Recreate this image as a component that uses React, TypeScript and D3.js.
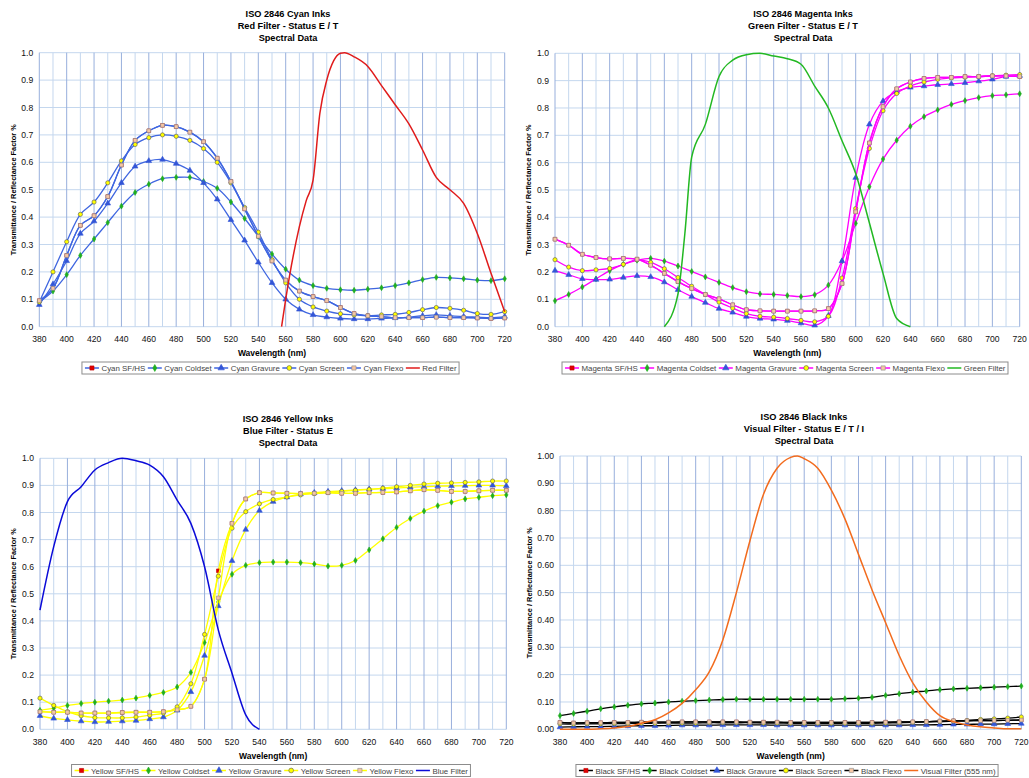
import React, { useEffect, useRef } from 'react';
import * as d3 from 'd3';

// Wavelength categories (nm)
const wavelengths = [380, 390, 400, 410, 420, 430, 440, 450, 460, 470, 480, 490, 500, 510, 520, 530, 540, 550, 560, 570, 580, 590, 600, 610, 620, 630, 640, 650, 660, 670, 680, 690, 700, 710, 720];
const xTicks = [380, 400, 420, 440, 460, 480, 500, 520, 540, 560, 580, 600, 620, 640, 660, 680, 700, 720];
const yTicks = [0, 0.1, 0.2, 0.3, 0.4, 0.5, 0.6, 0.7, 0.8, 0.9, 1.0];

// Cyan inks
const cyanSF = [0.095, 0.14, 0.26, 0.37, 0.405, 0.475, 0.59, 0.68, 0.715, 0.735, 0.73, 0.71, 0.675, 0.615, 0.53, 0.43, 0.33, 0.24, 0.17, 0.13, 0.11, 0.095, 0.07, 0.048, 0.04, 0.037, 0.033, 0.033, 0.033, 0.035, 0.033, 0.033, 0.032, 0.03, 0.032];
const cyanColdset = [0.09, 0.13, 0.19, 0.26, 0.32, 0.38, 0.44, 0.49, 0.52, 0.54, 0.545, 0.545, 0.53, 0.505, 0.455, 0.395, 0.33, 0.265, 0.21, 0.17, 0.15, 0.14, 0.135, 0.133, 0.137, 0.142, 0.15, 0.16, 0.172, 0.18, 0.178, 0.175, 0.17, 0.168, 0.175];
const cyanGravure = [0.08, 0.155, 0.24, 0.34, 0.385, 0.45, 0.525, 0.585, 0.605, 0.61, 0.595, 0.57, 0.525, 0.465, 0.39, 0.315, 0.235, 0.16, 0.1, 0.063, 0.043, 0.035, 0.03, 0.028, 0.028, 0.03, 0.032, 0.035, 0.04, 0.043, 0.04, 0.037, 0.035, 0.033, 0.037];
const cyanScreen = [0.09, 0.2, 0.31, 0.41, 0.455, 0.525, 0.605, 0.665, 0.69, 0.7, 0.695, 0.68, 0.65, 0.6, 0.525, 0.435, 0.345, 0.245, 0.16, 0.1, 0.072, 0.057, 0.047, 0.043, 0.04, 0.043, 0.045, 0.052, 0.062, 0.07, 0.067, 0.06, 0.048, 0.045, 0.055];
const cyanFlexo = [0.095, 0.14, 0.26, 0.37, 0.405, 0.475, 0.59, 0.68, 0.715, 0.735, 0.73, 0.71, 0.675, 0.615, 0.53, 0.43, 0.33, 0.24, 0.17, 0.13, 0.11, 0.095, 0.07, 0.048, 0.04, 0.037, 0.033, 0.033, 0.033, 0.035, 0.033, 0.033, 0.032, 0.03, 0.032];
const redFilterNm = [557, 560, 570, 575, 580, 585, 590, 595, 600, 603, 610, 620, 630, 640, 650, 660, 670, 680, 690, 700, 710, 720];
const redFilter = [0, 0.1, 0.365, 0.46, 0.535, 0.78, 0.9, 0.97, 0.998, 1.0, 0.985, 0.95, 0.88, 0.81, 0.74, 0.645, 0.545, 0.5, 0.45, 0.34, 0.195, 0.055];

// Magenta inks
const magentaSF = [0.32, 0.298, 0.265, 0.253, 0.248, 0.25, 0.247, 0.225, 0.195, 0.165, 0.14, 0.118, 0.102, 0.08, 0.062, 0.058, 0.057, 0.057, 0.057, 0.058, 0.066, 0.158, 0.42, 0.672, 0.805, 0.87, 0.895, 0.908, 0.912, 0.912, 0.915, 0.915, 0.917, 0.917, 0.915];
const magentaColdset = [0.095, 0.118, 0.145, 0.175, 0.205, 0.228, 0.243, 0.25, 0.24, 0.222, 0.202, 0.182, 0.162, 0.143, 0.128, 0.12, 0.118, 0.114, 0.11, 0.117, 0.152, 0.24, 0.378, 0.512, 0.613, 0.682, 0.733, 0.768, 0.793, 0.813, 0.827, 0.838, 0.845, 0.848, 0.852];
const magentaGravure = [0.205, 0.19, 0.175, 0.172, 0.173, 0.18, 0.186, 0.182, 0.163, 0.135, 0.11, 0.088, 0.066, 0.052, 0.037, 0.03, 0.027, 0.022, 0.013, 0.005, 0.04, 0.24, 0.545, 0.74, 0.825, 0.86, 0.875, 0.88, 0.885, 0.888, 0.892, 0.898, 0.905, 0.915, 0.918];
const magentaScreen = [0.245, 0.218, 0.205, 0.208, 0.213, 0.228, 0.245, 0.235, 0.212, 0.18, 0.148, 0.118, 0.09, 0.068, 0.048, 0.038, 0.035, 0.03, 0.023, 0.018, 0.038, 0.178, 0.432, 0.652, 0.79, 0.853, 0.88, 0.895, 0.905, 0.91, 0.912, 0.915, 0.918, 0.92, 0.922];
const magentaFlexo = [0.32, 0.298, 0.265, 0.253, 0.248, 0.25, 0.247, 0.225, 0.195, 0.165, 0.14, 0.118, 0.102, 0.08, 0.062, 0.058, 0.057, 0.057, 0.057, 0.058, 0.066, 0.158, 0.42, 0.672, 0.805, 0.87, 0.895, 0.908, 0.912, 0.912, 0.915, 0.915, 0.917, 0.917, 0.915];
const greenFilterNm = [460, 470, 475, 480, 490, 500, 510, 520, 530, 540, 550, 560, 570, 580, 590, 600, 610, 620, 630, 640];
const greenFilter = [0, 0.12, 0.34, 0.62, 0.74, 0.915, 0.975, 0.995, 1.0, 0.99, 0.98, 0.96, 0.88, 0.8, 0.68, 0.56, 0.38, 0.195, 0.03, 0];

// Yellow inks
const yellowSF = [0.065, 0.063, 0.063, 0.06, 0.06, 0.06, 0.062, 0.063, 0.063, 0.065, 0.072, 0.085, 0.185, 0.585, 0.76, 0.85, 0.873, 0.872, 0.871, 0.87, 0.871, 0.873, 0.871, 0.871, 0.873, 0.874, 0.876, 0.88, 0.884, 0.882, 0.878, 0.878, 0.88, 0.882, 0.882];
const yellowColdset = [0.07, 0.078, 0.088, 0.095, 0.1, 0.104, 0.108, 0.115, 0.125, 0.136, 0.156, 0.21, 0.32, 0.47, 0.572, 0.605, 0.615, 0.617, 0.617, 0.615, 0.61, 0.602, 0.605, 0.623, 0.662, 0.703, 0.745, 0.778, 0.805, 0.825, 0.838, 0.85, 0.856, 0.862, 0.865];
const yellowGravure = [0.05, 0.04, 0.035, 0.03, 0.027, 0.028, 0.03, 0.032, 0.038, 0.045, 0.07, 0.138, 0.272, 0.455, 0.622, 0.737, 0.807, 0.84, 0.857, 0.868, 0.873, 0.877, 0.88, 0.883, 0.886, 0.888, 0.89, 0.893, 0.895, 0.897, 0.898, 0.899, 0.9, 0.9, 0.898];
const yellowScreen = [0.115, 0.088, 0.065, 0.05, 0.043, 0.042, 0.042, 0.045, 0.052, 0.06, 0.083, 0.168, 0.35, 0.565, 0.742, 0.803, 0.832, 0.848, 0.857, 0.865, 0.87, 0.875, 0.878, 0.882, 0.885, 0.89, 0.895, 0.9, 0.905, 0.908, 0.909, 0.911, 0.913, 0.916, 0.916];
const yellowFlexo = [0.065, 0.063, 0.063, 0.06, 0.06, 0.06, 0.062, 0.063, 0.063, 0.065, 0.072, 0.085, 0.185, 0.485, 0.76, 0.85, 0.873, 0.872, 0.871, 0.87, 0.871, 0.873, 0.871, 0.871, 0.873, 0.874, 0.876, 0.88, 0.884, 0.882, 0.878, 0.878, 0.88, 0.882, 0.882];
const blueFilterNm = [380, 390, 400, 410, 420, 430, 440, 450, 460, 470, 480, 490, 500, 510, 520, 530, 540];
const blueFilter = [0.44, 0.674, 0.84, 0.895, 0.957, 0.984, 1.0, 0.991, 0.975, 0.932, 0.846, 0.76, 0.6, 0.367, 0.207, 0.053, 0];

// Black inks
const blackSF = [0.025, 0.023, 0.024, 0.024, 0.025, 0.025, 0.026, 0.026, 0.026, 0.027, 0.027, 0.027, 0.027, 0.027, 0.026, 0.026, 0.026, 0.025, 0.025, 0.025, 0.025, 0.025, 0.025, 0.025, 0.026, 0.027, 0.027, 0.028, 0.03, 0.031, 0.031, 0.032, 0.032, 0.033, 0.034];
const blackColdset = [0.05, 0.058, 0.066, 0.075, 0.082, 0.088, 0.093, 0.096, 0.1, 0.103, 0.105, 0.107, 0.109, 0.11, 0.11, 0.11, 0.11, 0.11, 0.11, 0.11, 0.11, 0.112, 0.114, 0.117, 0.124, 0.13, 0.136, 0.14, 0.145, 0.148, 0.15, 0.152, 0.154, 0.156, 0.158];
const blackGravure = [0.008, 0.009, 0.01, 0.01, 0.011, 0.012, 0.013, 0.013, 0.014, 0.015, 0.015, 0.015, 0.016, 0.016, 0.016, 0.016, 0.015, 0.015, 0.015, 0.015, 0.015, 0.015, 0.015, 0.015, 0.015, 0.015, 0.016, 0.016, 0.017, 0.018, 0.018, 0.019, 0.019, 0.02, 0.021];
const blackScreen = [0.02, 0.019, 0.02, 0.02, 0.021, 0.021, 0.022, 0.022, 0.023, 0.023, 0.023, 0.024, 0.024, 0.024, 0.024, 0.023, 0.023, 0.022, 0.022, 0.022, 0.022, 0.022, 0.022, 0.022, 0.023, 0.024, 0.025, 0.027, 0.028, 0.03, 0.032, 0.036, 0.038, 0.041, 0.045];
const blackFlexo = [0.025, 0.023, 0.024, 0.024, 0.025, 0.025, 0.026, 0.026, 0.026, 0.027, 0.027, 0.027, 0.027, 0.027, 0.026, 0.026, 0.026, 0.025, 0.025, 0.025, 0.025, 0.025, 0.025, 0.025, 0.026, 0.027, 0.027, 0.028, 0.03, 0.031, 0.031, 0.032, 0.032, 0.033, 0.034];
const visualFilterNm = [380, 390, 400, 410, 420, 430, 440, 450, 460, 470, 480, 490, 500, 510, 520, 530, 540, 550, 555, 560, 570, 580, 590, 600, 610, 620, 630, 640, 650, 660, 670, 680, 690, 700, 710, 720];
const visualFilter = [0, 0, 0, 0.002, 0.005, 0.01, 0.022, 0.035, 0.06, 0.095, 0.145, 0.21, 0.327, 0.5, 0.69, 0.86, 0.955, 0.995, 1.0, 0.99, 0.955, 0.875, 0.77, 0.64, 0.51, 0.39, 0.27, 0.17, 0.1, 0.05, 0.028, 0.016, 0.009, 0.005, 0.002, 0.002];

const FONT = 'Arial, "Liberation Sans", sans-serif';

type MarkerKind = 'sf' | 'coldset' | 'gravure' | 'screen' | 'flexo';

const markerStyle: Record<MarkerKind, { type: d3.SymbolType; size: number; fill: string; stroke: string }> = {
  sf: { type: d3.symbolSquare, size: 13, fill: '#e00000', stroke: '#c00000' },
  coldset: { type: d3.symbolDiamond, size: 10, fill: '#1fae1f', stroke: '#1fae1f' },
  gravure: { type: d3.symbolTriangle, size: 14, fill: '#3355d6', stroke: '#3355d6' },
  screen: { type: d3.symbolCircle, size: 14, fill: '#ffff00', stroke: '#555' },
  flexo: { type: d3.symbolSquare, size: 14, fill: '#f6c6a4', stroke: '#8a8a8a' },
};

interface Series { name: string; values: number[]; marker: MarkerKind }
interface PanelSpec {
  title: string[];
  inkColor: string;
  series: Series[];
  filterName: string;
  filterColor: string;
  filterNm: number[];
  filterValues: number[];
  left: number; right: number; top: number; bottom: number;
  titleX: number; titleY: number;
  yLabelX: number;
  yFormat: string;
  legendCX: number; legendCY: number;
}

const inkSeries = (prefix: string, sf: number[], cold: number[], grav: number[], scr: number[], flexo: number[]): Series[] => [
  { name: `${prefix} SF/HS`, values: sf, marker: 'sf' },
  { name: `${prefix} Coldset`, values: cold, marker: 'coldset' },
  { name: `${prefix} Gravure`, values: grav, marker: 'gravure' },
  { name: `${prefix} Screen`, values: scr, marker: 'screen' },
  { name: `${prefix} Flexo`, values: flexo, marker: 'flexo' },
];

const panels: PanelSpec[] = [
  {
    title: ['ISO 2846 Cyan Inks', 'Red Filter - Status E / T', 'Spectral Data'],
    inkColor: '#3f66e0',
    series: inkSeries('Cyan', cyanSF, cyanColdset, cyanGravure, cyanScreen, cyanFlexo),
    filterName: 'Red Filter', filterColor: '#e01b1b', filterNm: redFilterNm, filterValues: redFilter,
    left: 39.3, right: 504.7, top: 52.7, bottom: 326.7,
    titleX: 288, titleY: 14, yLabelX: 13, yFormat: '.1f', legendCX: 272, legendCY: 368,
  },
  {
    title: ['ISO 2846 Magenta Inks', 'Green Filter - Status E / T', 'Spectral Data'],
    inkColor: '#ff00ff',
    series: inkSeries('Magenta', magentaSF, magentaColdset, magentaGravure, magentaScreen, magentaFlexo),
    filterName: 'Green Filter', filterColor: '#22b822', filterNm: greenFilterNm, filterValues: greenFilter,
    left: 555, right: 1019.7, top: 53.3, bottom: 326.7,
    titleX: 803, titleY: 14, yLabelX: 528, yFormat: '.1f', legendCX: 786.5, legendCY: 368,
  },
  {
    title: ['ISO 2846 Yellow Inks', 'Blue Filter - Status E', 'Spectral Data'],
    inkColor: '#ffff00',
    series: inkSeries('Yellow', yellowSF, yellowColdset, yellowGravure, yellowScreen, yellowFlexo),
    filterName: 'Blue Filter', filterColor: '#0a0ad8', filterNm: blueFilterNm, filterValues: blueFilter,
    left: 40, right: 506.3, top: 458.3, bottom: 729.3,
    titleX: 288, titleY: 419, yLabelX: 13, yFormat: '.1f', legendCX: 272.5, legendCY: 770.5,
  },
  {
    title: ['ISO 2846 Black Inks', 'Visual Filter - Status E / T / I', 'Spectral Data'],
    inkColor: '#000000',
    series: inkSeries('Black', blackSF, blackColdset, blackGravure, blackScreen, blackFlexo),
    filterName: 'Visual Filter (555 nm)', filterColor: '#f26b1d', filterNm: visualFilterNm, filterValues: visualFilter,
    left: 560, right: 1021.3, top: 456, bottom: 729.3,
    titleX: 804, titleY: 417, yLabelX: 529, yFormat: '.2f', legendCX: 788.5, legendCY: 770.5,
  },
];

function drawPanel(svg: d3.Selection<SVGSVGElement, unknown, null, undefined>, p: PanelSpec) {
  const x = d3.scaleLinear().domain([380, 720]).range([p.left, p.right]);
  const y = d3.scaleLinear().domain([0, 1]).range([p.bottom, p.top]);
  const g = svg.append('g').style('font-family', FONT);

  // gridlines
  g.selectAll('.hgrid').data(yTicks).enter().append('line')
    .attr('x1', p.left).attr('x2', p.right)
    .attr('y1', d => y(d)).attr('y2', d => y(d))
    .attr('stroke', '#c4d7ee').attr('stroke-width', 1);
  g.selectAll('.vgrid').data(wavelengths).enter().append('line')
    .attr('x1', d => x(d)).attr('x2', d => x(d))
    .attr('y1', p.top).attr('y2', p.bottom)
    .attr('stroke', d => (d % 20 === 0 ? '#98afdc' : '#c4d7ee'))
    .attr('stroke-width', 1);

  // tick labels
  const fmt = d3.format(p.yFormat);
  g.selectAll('.ylab').data(yTicks).enter().append('text')
    .attr('x', p.left - 6).attr('y', d => y(d) + 3)
    .attr('text-anchor', 'end').style('font-size', '8.6px').attr('fill', '#111')
    .text(d => fmt(d));
  g.selectAll('.xlab').data(xTicks).enter().append('text')
    .attr('x', d => x(d)).attr('y', p.bottom + 15.5)
    .attr('text-anchor', 'middle').style('font-size', '8.6px').attr('fill', '#111')
    .text(d => d);

  // titles
  p.title.forEach((line, i) => {
    g.append('text')
      .attr('x', p.titleX).attr('y', p.titleY + i * 12 + 3.3)
      .attr('text-anchor', 'middle').style('font-size', '9.2px').style('font-weight', 'bold')
      .text(line);
  });
  g.append('text')
    .attr('x', (p.left + p.right) / 2).attr('y', p.bottom + 29.5)
    .attr('text-anchor', 'middle').style('font-size', '8.5px').style('font-weight', 'bold')
    .text('Wavelength (nm)');
  const yMid = (p.top + p.bottom) / 2;
  g.append('text')
    .attr('transform', `translate(${p.yLabelX + 2.5}, ${yMid}) rotate(-90)`)
    .attr('text-anchor', 'middle').style('font-size', '7.4px').style('font-weight', 'bold')
    .text('Transmittance / Reflectance Factor %');

  // ink series
  const inkLine = d3.line<number>()
    .x((_, i) => x(wavelengths[i]))
    .y(d => y(d))
    .curve(d3.curveCatmullRom.alpha(0.5));
  p.series.forEach(s => {
    g.append('path').attr('d', inkLine(s.values) || '')
      .attr('fill', 'none').attr('stroke', p.inkColor).attr('stroke-width', 1.3);
    const m = markerStyle[s.marker];
    g.selectAll(null).data(s.values).enter().append('path')
      .attr('transform', (d, i) => `translate(${x(wavelengths[i])},${y(d)})`)
      .attr('d', d3.symbol().type(m.type).size(m.size)() || '')
      .attr('fill', m.fill).attr('stroke', m.stroke).attr('stroke-width', 0.6);
  });

  // filter curve
  const filterLine = d3.line<number>()
    .x((_, i) => x(p.filterNm[i]))
    .y(d => y(d))
    .curve(d3.curveMonotoneX);
  g.append('path').attr('d', filterLine(p.filterValues) || '')
    .attr('fill', 'none').attr('stroke', p.filterColor).attr('stroke-width', 1.5);

  // legend
  const lg = g.append('g');
  const box = lg.append('rect');
  let cx = 0;
  const items = [
    ...p.series.map(s => ({ name: s.name, color: p.inkColor, marker: s.marker as MarkerKind | null })),
    { name: p.filterName, color: p.filterColor, marker: null as MarkerKind | null },
  ];
  items.forEach(it => {
    const ig = lg.append('g').attr('transform', `translate(${cx},0)`);
    ig.append('line').attr('x1', 0).attr('x2', 14).attr('y1', 0).attr('y2', 0)
      .attr('stroke', it.color).attr('stroke-width', 1.5);
    if (it.marker) {
      const m = markerStyle[it.marker];
      ig.append('path').attr('transform', 'translate(7,0)')
        .attr('d', d3.symbol().type(m.type).size(m.size + 4)() || '')
        .attr('fill', m.fill).attr('stroke', m.stroke).attr('stroke-width', 0.6);
    }
    const t = ig.append('text').attr('x', 16.5).attr('y', 3)
      .style('font-size', '7.9px').attr('fill', '#444').text(it.name);
    const w = (t.node() as SVGTextElement).getComputedTextLength();
    cx += 16.5 + w + 2.5;
  });
  lg.attr('transform', `translate(${p.legendCX - cx / 2}, ${p.legendCY})`);
  box.attr('x', -3).attr('y', -6).attr('width', cx + 3).attr('height', 12)
    .attr('fill', '#fff').attr('stroke', '#8c8c8c').attr('stroke-width', 1);
}

const App: React.FC = () => {
  const svgRef = useRef<SVGSVGElement>(null);

  useEffect(() => {
    if (!svgRef.current) return;
    const svg = d3.select(svgRef.current);
    svg.selectAll('*').remove();
    panels.forEach(p => drawPanel(svg, p));
  }, []);

  return (
    <svg
      ref={svgRef}
      width={1029}
      height={778}
      style={{ position: 'absolute', left: 0, top: 0, background: '#fff' }}
    />
  );
};

export default App;
